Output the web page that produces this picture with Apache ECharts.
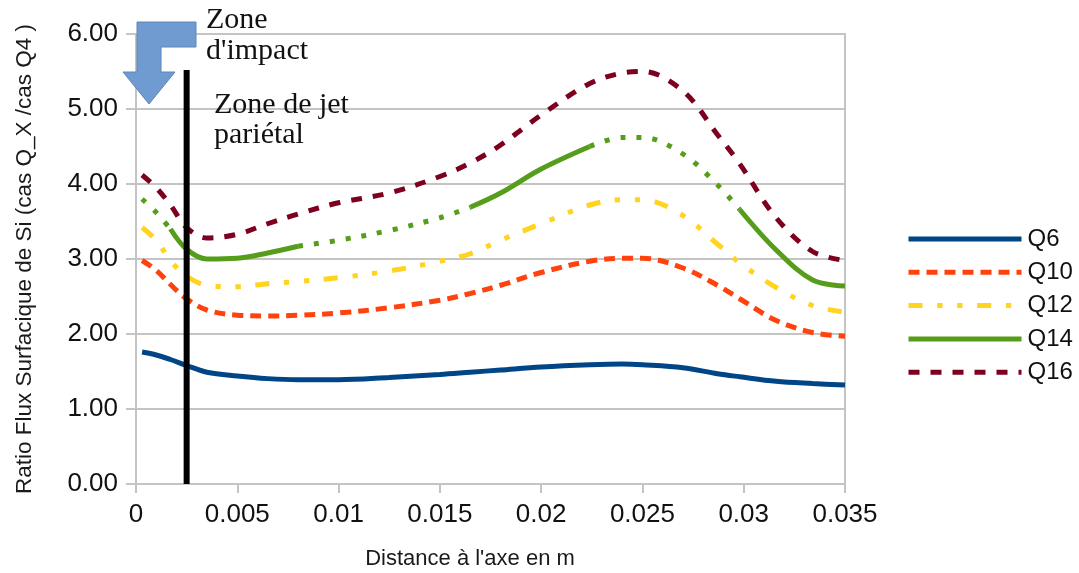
<!DOCTYPE html>
<html><head><meta charset="utf-8">
<style>html,body{margin:0;padding:0;background:#fff}#c{width:1079px;height:573px}</style>
<script src="https://cdn.jsdelivr.net/npm/echarts@6/dist/echarts.min.js"></script>
</head><body><div id="c"></div>
<script>
const xs = [0.0003,0.001,0.0017,0.0025,0.0035,0.005,0.0065,0.008,0.01,0.0125,0.015,0.0165,0.018,0.02,0.0224,0.024,0.025,0.027,0.0287,0.0298,0.0316,0.0334,0.035];
const q6  = [1.76,1.72,1.66,1.58,1.49,1.44,1.405,1.39,1.39,1.42,1.46,1.49,1.52,1.56,1.59,1.6,1.59,1.55,1.47,1.43,1.37,1.34,1.32];
const q10 = [2.98,2.85,2.66,2.47,2.32,2.25,2.24,2.25,2.28,2.35,2.45,2.54,2.65,2.82,2.97,3.01,3.01,2.88,2.65,2.47,2.18,2.02,1.97];
const q12 = [3.42,3.25,2.98,2.77,2.65,2.63,2.67,2.7,2.75,2.84,2.97,3.07,3.25,3.47,3.72,3.79,3.79,3.58,3.2,2.95,2.62,2.38,2.29];
const q14 = [3.8,3.62,3.4,3.13,3.0,3.01,3.08,3.17,3.25,3.38,3.55,3.69,3.88,4.2,4.5,4.62,4.62,4.4,3.99,3.66,3.12,2.72,2.64];
const q16 = [4.12,3.95,3.72,3.42,3.28,3.33,3.47,3.6,3.75,3.88,4.1,4.28,4.52,4.92,5.34,5.48,5.5,5.24,4.66,4.27,3.55,3.1,2.98];
const q14Solid  = [[0.0017,0.008],[0.0165,0.0224],[0.0298,0.035]];
const q14Dotted = [[0.0003,0.0017],[0.008,0.0165],[0.0224,0.0298]];
const jetX = [0.0025,0.0025];
const jetY = [0,5.52];
const names = ['Q6','Q10','Q12','Q14','Q16'];
const colors = {Q6:'#004586',Q10:'#ff420e',Q12:'#ffd320',Q14:'#579d1c',Q16:'#7e0021'};
const dashes = {Q6:'solid',Q10:[11,7],Q12:[14,14.7,5.3,14.7,5.3,14.7],Q14:'solid',Q16:[11,11]};

const pts = (ys)=>xs.map((x,i)=>[x,ys[i]]);
const slice = (ys,[a,b])=>pts(ys).filter(p=>p[0]>=a && p[0]<=b);
const line = (name,data,type)=>({name,type:'line',data,smooth:0.35,symbol:'none',silent:true,z:2,
  lineStyle:{color:colors[name],width:5,type,cap:'butt'},itemStyle:{color:colors[name]}});

const series = [
  line('Q6',pts(q6),dashes.Q6),
  line('Q10',pts(q10),dashes.Q10),
  line('Q12',pts(q12),dashes.Q12),
  ...q14Solid.map(r=>line('Q14',slice(q14,r),'solid')),
  ...q14Dotted.map(r=>line('Q14',slice(q14,r),[5,11])),
  line('Q16',pts(q16),dashes.Q16),
  {type:'line',data:jetX.map((x,i)=>[x,jetY[i]]),symbol:'none',silent:true,z:5,
   lineStyle:{color:'#000',width:6,cap:'butt'}}
];

const font='"Liberation Sans"';
const axisColor='#c4c4c4';
const chart = echarts.init(document.getElementById('c'),null,{renderer:'canvas'});
chart.setOption({
  animation:false,
  backgroundColor:'#fff',
  grid:{left:136,right:234,top:34,bottom:89,outerBoundsMode:'none',show:true,borderColor:axisColor,borderWidth:2},
  xAxis:{type:'value',min:0,max:0.035,interval:0.005,
    name:"Distance à l'axe en m",nameLocation:'middle',nameGap:64,
    nameTextStyle:{fontFamily:font,fontSize:22,color:'#1a1a1a',padding:[0,0,0,-41]},
    axisLine:{show:true,onZero:false,lineStyle:{color:axisColor,width:2}},
    axisTick:{show:true,length:9,lineStyle:{color:axisColor,width:2}},
    axisLabel:{fontFamily:font,fontSize:26,color:'#111',margin:18,formatter:v=>String(v),hideOverlap:false,showMinLabel:true,showMaxLabel:true},
    splitLine:{show:false}},
  yAxis:{type:'value',min:0,max:6,interval:1,
    name:'Ratio Flux Surfacique de Si (cas Q_X /cas Q4 )',nameLocation:'middle',nameGap:100,nameRotate:90,
    nameTextStyle:{fontFamily:font,fontSize:22.5,color:'#1a1a1a'},
    axisLine:{show:true,lineStyle:{color:axisColor,width:2}},
    axisTick:{show:true,length:10,lineStyle:{color:axisColor,width:2}},
    axisLabel:{fontFamily:font,fontSize:26,color:'#111',margin:18,formatter:v=>v.toFixed(2)},
    splitLine:{show:true,lineStyle:{color:axisColor,width:2}}},
  legend:{data:names,orient:'vertical',left:906,top:227,padding:0,itemWidth:113,itemHeight:5,itemGap:9.3,
    lineStyle:{width:5},itemStyle:{opacity:0},
    textStyle:{fontFamily:font,fontSize:24,color:'#111',padding:[0,0,0,1]},selectedMode:false},
  series,
  graphic:[
    {type:'polygon',z:10,shape:{points:[[137,22],[196,22],[196,47],[161,47],[161,72],[175,72],[149,104],[123,72],[137,72]]},
     style:{fill:'#6f9bd1',stroke:'#5b86bb',lineWidth:1}},
    {type:'text',z:10,left:206,top:5,style:{text:"Zone\nd'impact",font:'30px "Liberation Serif"',lineHeight:31,fill:'#111'}},
    {type:'text',z:10,left:214,top:90,style:{text:"Zone de jet\npariétal",font:'30px "Liberation Serif"',lineHeight:30,fill:'#111'}}
  ]
});
</script></body></html>
